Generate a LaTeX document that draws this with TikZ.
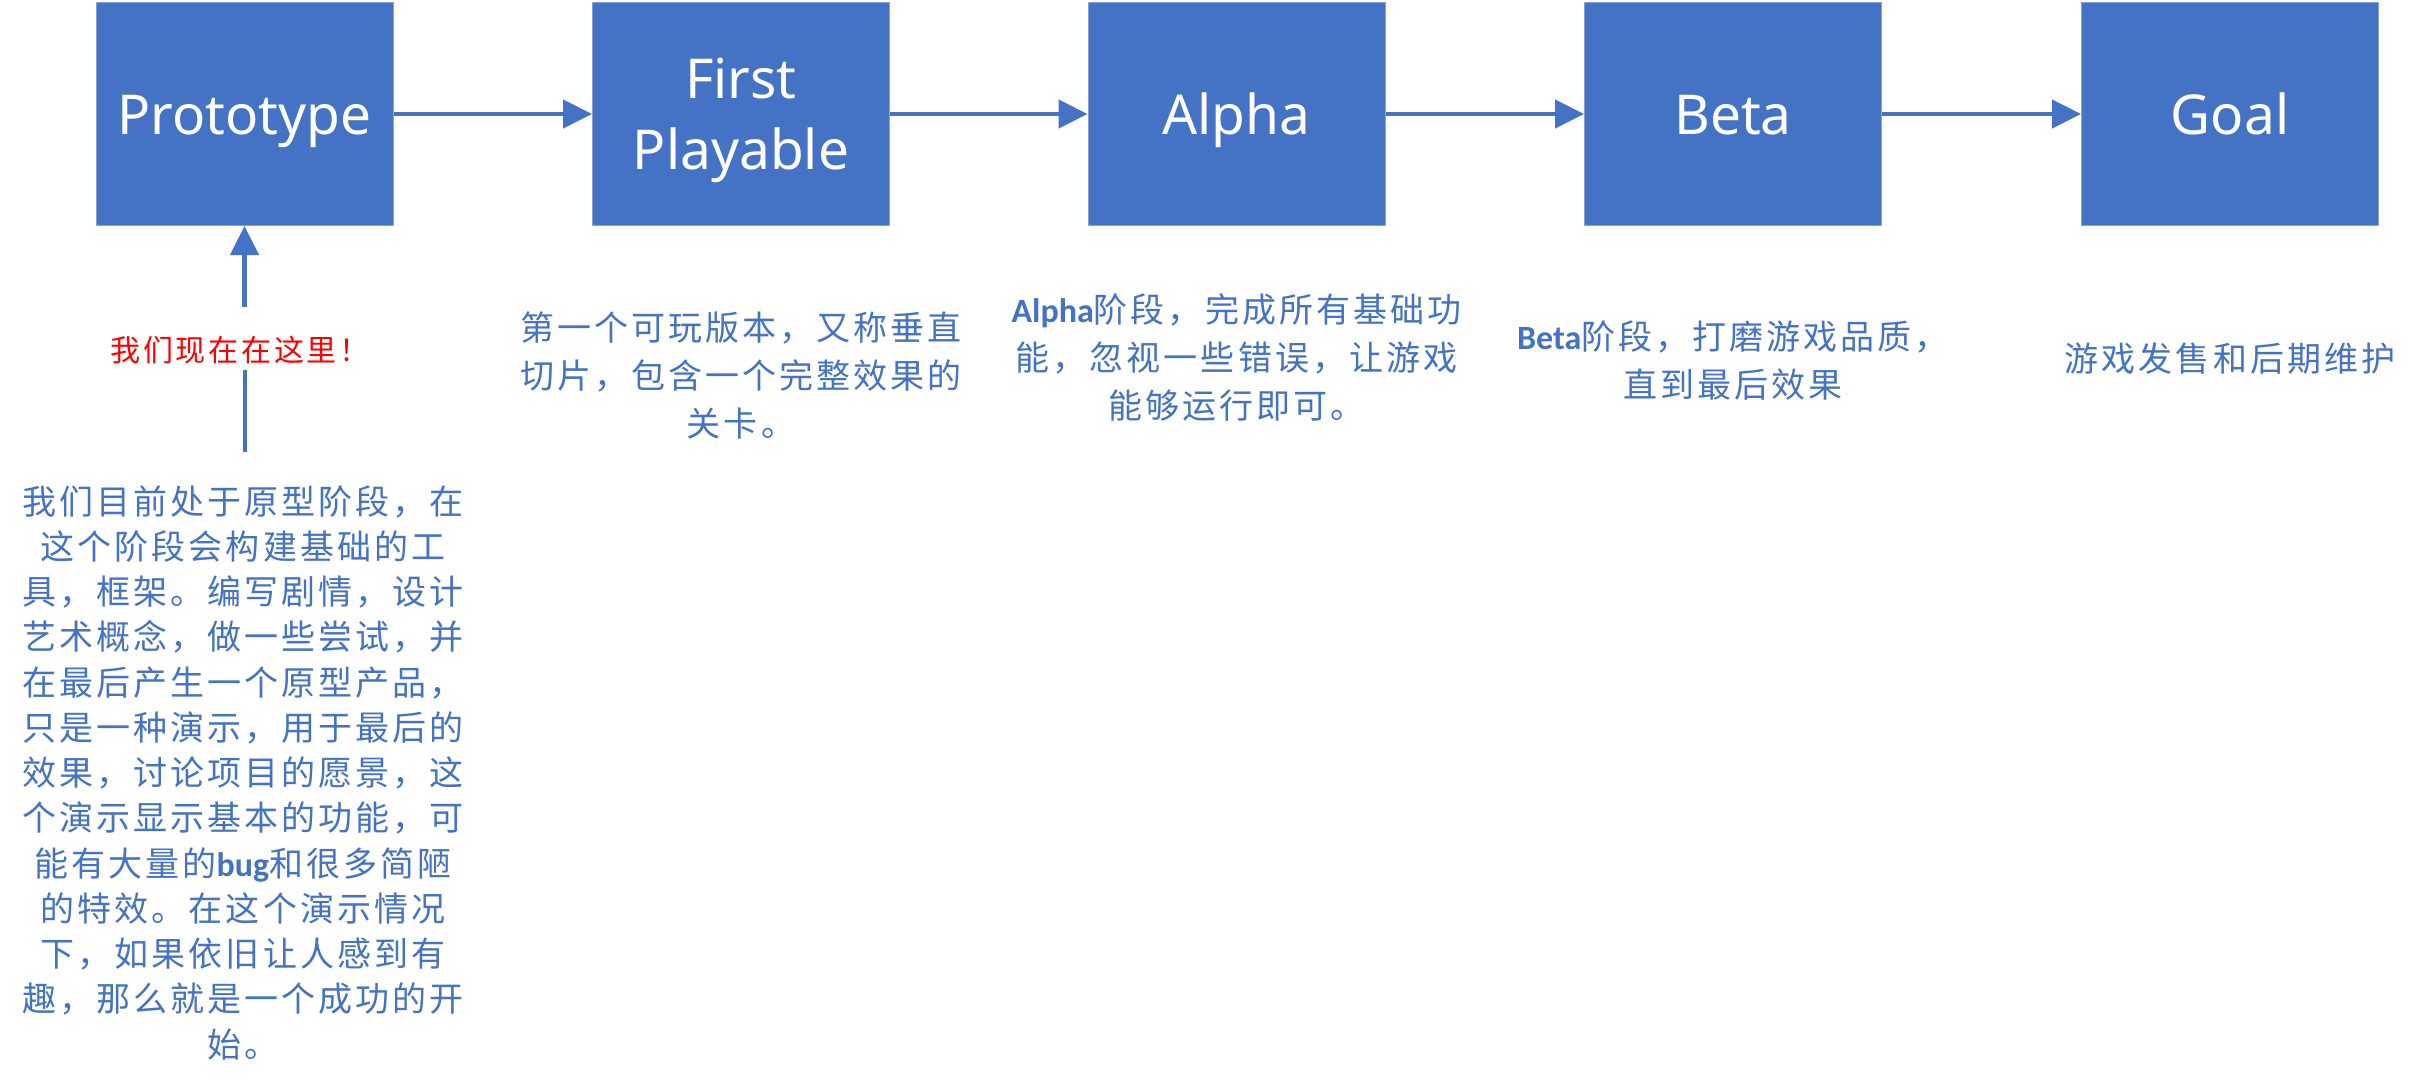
\documentclass[tikz,border=0pt]{standalone}
\usepackage{fontspec}
\setmainfont{Noto Sans}
\newfontfamily\cjk{Noto Sans CJK SC}[LetterSpace=9]
\newfontfamily\carl{Carlito}
\usetikzlibrary{arrows.meta}
\definecolor{boxblue}{HTML}{4472C4}
\definecolor{txtblue}{HTML}{4472C4}
\definecolor{hered}{HTML}{FF0000}
\tikzset{
  stage/.style={rectangle, fill=boxblue, draw=boxblue!65!white, line width=1pt,
    minimum width=297pt, minimum height=223pt, inner sep=0pt, text=white,
    text height=40pt, text depth=0pt,
    align=center, font=\fontsize{55}{71}\selectfont},
  desc/.style={text=txtblue, align=center, inner sep=0pt, font=\cjk\fontsize{34}{48}\selectfont},
  flow/.style={line width=4.5pt, draw=boxblue, -{Triangle[length=29pt,width=28pt]}},
  plainline/.style={line width=4.5pt, draw=boxblue},
}
\newcommand{\lb}[1]{{\carl\bfseries #1}}
\begin{document}
\begin{tikzpicture}[x=1pt,y=-1pt]
\useasboundingbox (0,0) rectangle (2419,1081);
\fill[white] (0,0) rectangle (2419,1081);
% stages
\node[stage] (proto) at (244.5,114) {Prototype};
\node[stage, text height=111pt, text depth=0pt] (fp) at (741,114) {First\\Playable};
\node[stage] (alpha) at (1236.5,114) {Alpha};
\node[stage] (beta) at (1733,114) {Beta};
\node[stage] (goal) at (2230,114) {Goal};
% flow arrows
\draw[flow] (proto.east) -- (fp.west);
\draw[flow] (fp.east) -- (alpha.west);
\draw[flow] (alpha.east) -- (beta.west);
\draw[flow] (beta.east) -- (goal.west);
% we are here
\node[text=hered, inner sep=0pt, font=\cjk\fontsize{30}{34}\selectfont] (here) at (240,350) {我们现在在这里！};
\coordinate (vb) at (245,452);
\coordinate (hs) at ([yshift=-6pt]here.south);
\coordinate (hn) at ([yshift=29pt]here.north);
\draw[plainline] (vb) -- (vb |- hs);
\draw[flow] (proto.south |- hn) -- (proto.south);
% descriptions
\node[desc, font=\cjk\fontsize{34}{45.25}\selectfont] (pdesc) at (243,772.5) {我们目前处于原型阶段，在\\这个阶段会构建基础的工\\具，框架。编写剧情，设计\\艺术概念，做一些尝试，并\\在最后产生一个原型产品，\\只是一种演示，用于最后的\\效果，讨论项目的愿景，这\\个演示显示基本的功能，可\\能有大量的\lb{bug}和很多简陋\\的特效。在这个演示情况\\下，如果依旧让人感到有\\趣，那么就是一个成功的开\\始。};
\node[desc] (fpdesc) at (741,375) {第一个可玩版本，又称垂直\\切片，包含一个完整效果的\\关卡。};
\node[desc] (adesc) at (1236.5,357.5) {\lb{Alpha}阶段，完成所有基础功\\能，忽视一些错误，让游戏\\能够运行即可。};
\node[desc] (bdesc) at (1733,360.5) {\lb{Beta}阶段，打磨游戏品质，\\直到最后效果};
\node[desc] (gdesc) at (2230,359) {游戏发售和后期维护};
\end{tikzpicture}
\end{document}
